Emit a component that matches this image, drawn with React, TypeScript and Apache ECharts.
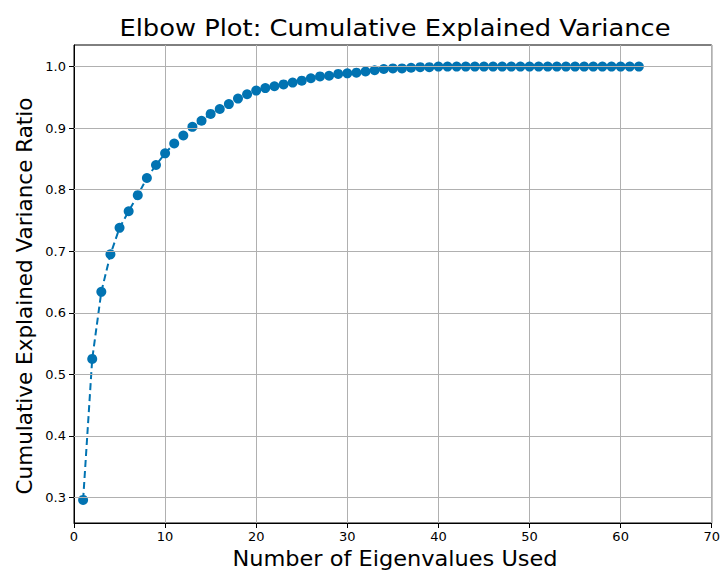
import React, { useEffect, useRef } from "react";
import * as echarts from "echarts";

// Number of eigenvalues kept (1..62)
const components: number[] = Array.from({ length: 62 }, (_, i) => i + 1);

// Cumulative explained variance ratio for each count of eigenvalues
const cumulativeVariance: number[] = [
  0.296, 0.525, 0.634, 0.695, 0.738, 0.765, 0.791, 0.819, 0.84, 0.859,
  0.875, 0.888, 0.902, 0.912, 0.923, 0.931, 0.939, 0.948, 0.955, 0.961,
  0.965, 0.968, 0.971, 0.974, 0.977, 0.981, 0.984, 0.985, 0.988, 0.989,
  0.99, 0.992, 0.994, 0.996, 0.997, 0.997, 0.998, 0.999, 0.999, 1.0,
  1.0, 1.0, 1.0, 1.0, 1.0, 1.0, 1.0, 1.0, 1.0, 1.0,
  1.0, 1.0, 1.0, 1.0, 1.0, 1.0, 1.0, 1.0, 1.0, 1.0,
  1.0, 1.0,
];

const xTicks: number[] = [0, 10, 20, 30, 40, 50, 60, 70];
const yTicks: number[] = [0.3, 0.4, 0.5, 0.6, 0.7, 0.8, 0.9, 1.0];

const titleText = "Elbow Plot: Cumulative Explained Variance";
const xName = "Number of Eigenvalues Used";
const yName = "Cumulative Explained Variance Ratio";

const FONT = "DejaVu Sans";
const BLUE = "#0173b2";

export default function App() {
  const ref = useRef<HTMLDivElement>(null);

  useEffect(() => {
    if (!ref.current) return;
    const chart = echarts.init(ref.current, undefined, { renderer: "svg" });
    const grid = { left: 74, top: 45, width: 642, height: 478 };
    chart.setOption({
      animation: false,
      backgroundColor: "#ffffff",
      grid: {
        ...grid,
        show: true,
        borderColor: "#000000",
        borderWidth: 1,
        backgroundColor: "transparent",
      },
      xAxis: {
        type: "value",
        min: xTicks[0],
        max: xTicks[xTicks.length - 1],
        interval: 10,
        axisLine: { show: true, lineStyle: { color: "#000", width: 1 } },
        axisTick: { show: true, inside: false, length: 5, lineStyle: { color: "#000" } },
        axisLabel: {
          color: "#000",
          fontFamily: FONT,
          fontSize: 13,
          margin: 7,
        },
        splitLine: { show: true, lineStyle: { color: "#b0b0b0", width: 1 } },
      },
      yAxis: {
        type: "value",
        min: 0.2585,
        max: 1.035,
        axisLine: { show: true, lineStyle: { color: "#000", width: 1 } },
        axisTick: {
          show: true,
          inside: false,
          length: 5,
          customValues: yTicks,
          lineStyle: { color: "#000" },
        },
        axisLabel: {
          color: "#000",
          fontFamily: FONT,
          fontSize: 13,
          margin: 8,
          customValues: yTicks,
          formatter: (v: number) => v.toFixed(1),
        },
        splitLine: { show: false },
      },
      series: [
        {
          type: "line",
          data: components.map((c, i) => [c, cumulativeVariance[i]]),
          symbol: "circle",
          symbolSize: 10,
          lineStyle: { color: BLUE, width: 2, type: [7, 4] },
          itemStyle: { color: BLUE },
          z: 3,
        },
        {
          // horizontal grid lines at the labelled ratios
          type: "line",
          data: [],
          markLine: {
            silent: true,
            symbol: "none",
            label: { show: false },
            lineStyle: { color: "#b0b0b0", width: 1, type: "solid" },
            data: yTicks.map((v) => ({ yAxis: v })),
          },
          z: 1,
        },
      ],
      graphic: [
        {
          type: "text",
          x: 395,
          y: 28,
          scaleX: 1.12,
          style: {
            text: titleText,
            fontFamily: FONT,
            fontSize: 23,
            fill: "#000",
            textAlign: "center",
            textVerticalAlign: "middle",
          },
        },
        {
          type: "text",
          x: 395,
          y: 559,
          scaleX: 1.07,
          style: {
            text: xName,
            fontFamily: FONT,
            fontSize: 21,
            fill: "#000",
            textAlign: "center",
            textVerticalAlign: "middle",
          },
        },
        {
          type: "text",
          x: 24,
          y: 296,
          rotation: Math.PI / 2,
          style: {
            text: yName,
            fontFamily: FONT,
            fontSize: 21.5,
            fill: "#000",
            textAlign: "center",
            textVerticalAlign: "middle",
          },
        },
      ],
    });
    return () => chart.dispose();
  }, []);

  return (
    <div
      ref={ref}
      style={{ position: "fixed", left: 0, top: 0, width: 723, height: 571 }}
    />
  );
}
